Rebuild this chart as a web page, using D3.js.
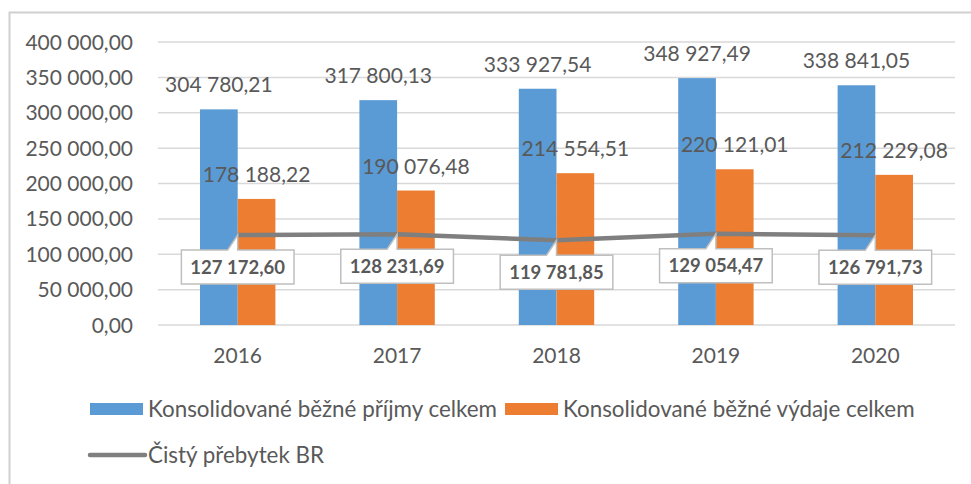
<!DOCTYPE html>
<html>
<head>
<meta charset="utf-8">
<script src="https://cdn.jsdelivr.net/npm/d3@7"></script>
<style>
  body { margin: 0; background: #fff; }
  svg { display: block; font-family: Lato, "Open Sans", sans-serif; }
</style>
</head>
<body>
<div id="chart"></div>
<script>
// data
var years = ["2016", "2017", "2018", "2019", "2020"];
var prijmy = [304780.21, 317800.13, 333927.54, 348927.49, 338841.05];
var vydaje = [178188.22, 190076.48, 214554.51, 220121.01, 212229.08];
var prebytek = [127172.60, 128231.69, 119781.85, 129054.47, 126791.73];
var yTicks = [0, 50000, 100000, 150000, 200000, 250000, 300000, 350000, 400000];
var seriesNames = ["Konsolidované běžné příjmy celkem", "Konsolidované běžné výdaje celkem", "Čistý přebytek BR"];

var width = 971, height = 484;
var blue = "#5b9bd5", orange = "#ed7d31", gray = "#7f7f7f", textColor = "#595959";

// czech number format: space for thousands, comma for decimals
var fmt = d3.formatLocale({decimal: ",", thousands: "\u00a0", grouping: [3], currency: ["", ""]}).format(",.2f");

var svg = d3.select("#chart").append("svg")
  .attr("width", width).attr("height", height);

// outer frame (right and bottom edges fall outside the picture)
svg.append("rect")
  .attr("x", 9.5).attr("y", 12.5).attr("width", 1000).attr("height", 600)
  .attr("fill", "none").attr("stroke", "#d0d0d0").attr("stroke-width", 2);

var x = d3.scaleBand().domain(years).range([158, 955]).paddingInner(0.527).paddingOuter(0.2635);
var xs = d3.scaleBand().domain([0, 1]).range([0, x.bandwidth()]);
var y = d3.scaleLinear().domain([0, 400000]).range([325, 42]);

// gridlines
svg.append("g").selectAll("line").data(yTicks).enter().append("line")
  .attr("x1", 158).attr("x2", 955)
  .attr("y1", d => y(d)).attr("y2", d => y(d))
  .attr("stroke", "#d9d9d9").attr("stroke-width", 1.5);

// y axis labels
svg.append("g").selectAll("text").data(yTicks).enter().append("text")
  .attr("x", 133).attr("y", d => y(d)).attr("dy", "0.36em")
  .attr("text-anchor", "end").attr("fill", textColor).attr("font-size", 21)
  .text(d => fmt(d));

// x axis labels
svg.append("g").selectAll("text").data(years).enter().append("text")
  .attr("x", d => x(d) + x.bandwidth() / 2).attr("y", 363)
  .attr("text-anchor", "middle").attr("fill", textColor).attr("font-size", 21)
  .text(d => d);

// bars
var bars = [
  {vals: prijmy, color: blue, idx: 0},
  {vals: vydaje, color: orange, idx: 1}
];
bars.forEach(function(s) {
  var g = svg.append("g");
  g.selectAll("rect").data(s.vals).enter().append("rect")
    .attr("x", (d, i) => x(years[i]) + xs(s.idx))
    .attr("width", xs.bandwidth())
    .attr("y", d => y(d))
    .attr("height", d => y(0) - y(d))
    .attr("fill", s.color);
  g.selectAll("text").data(s.vals).enter().append("text")
    .attr("x", (d, i) => x(years[i]) + xs(s.idx) + xs.bandwidth() / 2)
    .attr("y", d => y(d) - 17)
    .attr("text-anchor", "middle").attr("fill", textColor).attr("font-size", 21)
    .text(d => fmt(d));
});

// line
var cx = (d, i) => x(years[i]) + x.bandwidth() / 2;
var line = d3.line().x(cx).y(d => y(d));
svg.append("path").datum(prebytek)
  .attr("d", line).attr("fill", "none")
  .attr("stroke", gray).attr("stroke-width", 4.5);

// callout labels
var lab = svg.append("g").selectAll("g").data(prebytek).enter().append("g");
lab.each(function(d, i) {
  var g = d3.select(this);
  var px = cx(d, i), py = y(d);
  var t = g.append("text")
    .attr("x", px).attr("font-size", 18.5).attr("font-weight", "bold")
    .attr("text-anchor", "middle").attr("fill", textColor)
    .text(fmt(d));
  var w = t.node().getComputedTextLength() + 18;
  var top = py + 15, h = 34, l = px - w / 2, r = px + w / 2;
  g.insert("path", "text")
    .attr("d", "M" + l + "," + top + "L" + (px - 10) + "," + top + "L" + px + "," + py +
      "L" + px + "," + top + "L" + r + "," + top + "L" + r + "," + (top + h) +
      "L" + l + "," + (top + h) + "Z")
    .attr("fill", "#fff").attr("stroke", "#bfbfbf").attr("stroke-width", 1.5);
  t.attr("y", top + h / 2).attr("dy", "0.36em");
});

// legend
var leg = svg.append("g").attr("font-size", 22.4).attr("fill", textColor);
leg.append("rect").attr("x", 90).attr("y", 403).attr("width", 53).attr("height", 12).attr("fill", blue);
leg.append("text").attr("x", 148).attr("y", 409).attr("dy", "0.36em").text(seriesNames[0]);
leg.append("rect").attr("x", 505).attr("y", 403).attr("width", 53).attr("height", 12).attr("fill", orange);
leg.append("text").attr("x", 563).attr("y", 409).attr("dy", "0.36em").text(seriesNames[1]);
leg.append("line").attr("x1", 90).attr("x2", 145).attr("y1", 455).attr("y2", 455)
  .attr("stroke", gray).attr("stroke-width", 4.5).attr("stroke-linecap", "round");
leg.append("text").attr("x", 148).attr("y", 455).attr("dy", "0.36em").text(seriesNames[2]);
</script>
</body>
</html>
